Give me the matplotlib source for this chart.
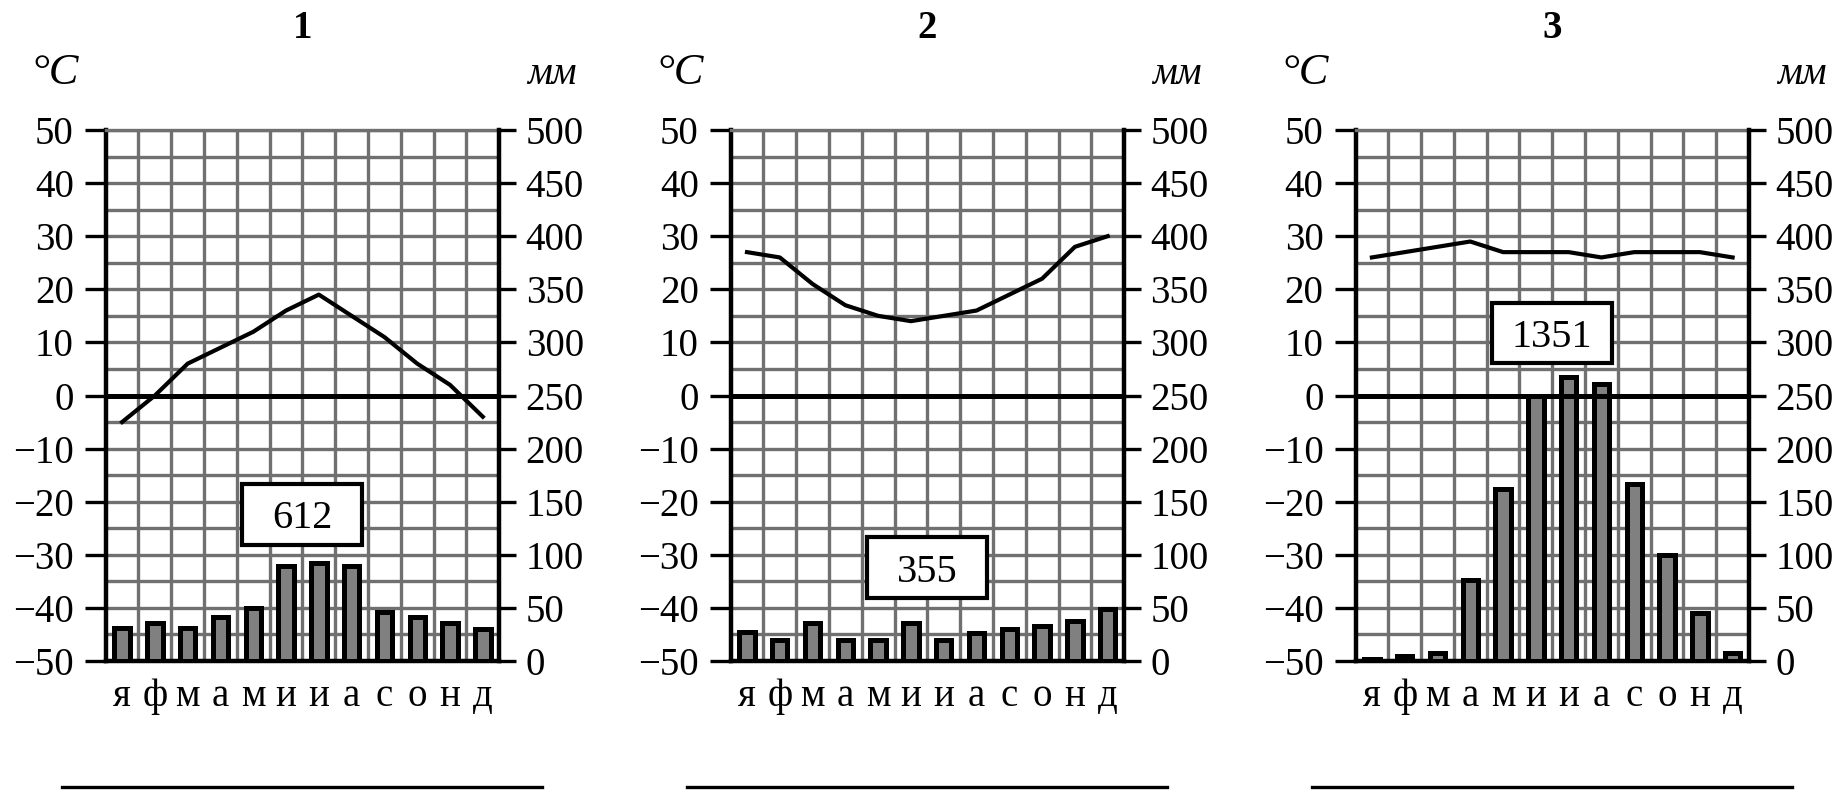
import numpy as np
import matplotlib
matplotlib.use('Agg')
import matplotlib.pyplot as plt
from matplotlib.patches import Rectangle
from matplotlib.lines import Line2D
from matplotlib.ticker import FixedLocator

plt.rcParams['font.family'] = ['Liberation Serif', 'DejaVu Serif']

# ---------------- data ----------------
months = ['я', 'ф', 'м', 'а', 'м', 'и', 'и', 'а', 'с', 'о', 'н', 'д']
titles = ['1', '2', '3']

temp_1 = [-5, 0, 6, 9, 12, 16, 19, 15, 11, 6, 2, -4]
precip_1 = [31, 36, 31, 41, 50, 89, 92, 89, 46, 41, 36, 30]
total_1 = '612'

temp_2 = [27, 26, 21, 17, 15, 14, 15, 16, 19, 22, 28, 30]
precip_2 = [27, 20, 36, 20, 20, 36, 20, 26, 30, 33, 38, 49]
total_2 = '355'

temp_3 = [26, 27, 28, 29, 27, 27, 27, 26, 27, 27, 27, 26]
precip_3 = [2, 5, 8, 76, 162, 250, 267, 261, 167, 100, 45, 8]
total_3 = '1351'

temp_ticks = [50, 40, 30, 20, 10, 0, -10, -20, -30, -40, -50]
temp_tick_labels = ['50', '40', '30', '20', '10', '0',
                    '\u221210', '\u221220', '\u221230', '\u221240', '\u221250']
precip_ticks = [500, 450, 400, 350, 300, 250, 200, 150, 100, 50, 0]
precip_tick_labels = ['500', '450', '400', '350', '300', '250',
                      '200', '150', '100', '50', '0']

# box label centre heights (mm axis)
box_mm = [138, 88, 309]

temps = [temp_1, temp_2, temp_3]
precs = [precip_1, precip_2, precip_3]
totals = [total_1, total_2, total_3]

# ---------------- layout ----------------
W, H = 1846, 794
fig = plt.figure(figsize=(W / 100, H / 100), dpi=100)

lefts = [105.7, 730.6, 1355.5]
ax_w = 393.5
ax_top, ax_bot = 130, 661
grid_c = '#707070'
bar_c = '#808080'
FS = 28

for k in range(3):
    L = lefts[k]
    ax = fig.add_axes([L / W, (H - ax_bot) / H, ax_w / W, (ax_bot - ax_top) / H])
    ax.set_xlim(0, 12)
    ax.set_ylim(-50, 50)
    ax2 = ax.twinx()
    ax2.set_ylim(0, 500)

    x = np.arange(len(months)) + 0.5

    # x axis
    ax.set_xticks(x)
    ax.set_xticklabels(months)
    ax.xaxis.set_minor_locator(FixedLocator(np.arange(1, 12)))
    ax.tick_params(axis='x', which='both', length=0, pad=12, labelsize=FS)

    # left y axis (temperature)
    ax.set_yticks(temp_ticks)
    ax.set_yticklabels(temp_tick_labels)
    ax.yaxis.set_minor_locator(FixedLocator(np.arange(-45, 50, 10)))
    ax.tick_params(axis='y', which='major', direction='out', length=15,
                   width=2.4, pad=8, labelsize=FS)
    ax.tick_params(axis='y', which='minor', length=0)

    ax.set_axisbelow(True)
    ax.grid(True, axis='y', which='both', color=grid_c, lw=2.4)
    ax.grid(True, axis='x', which='minor', color=grid_c, lw=2.4)
    ax.xaxis.grid(False, which='major')

    # right y axis (precip)
    ax2.set_yticks(precip_ticks)
    ax2.set_yticklabels(precip_tick_labels)
    ax2.tick_params(axis='y', direction='out', length=12, width=2.4,
                    pad=7, labelsize=FS)

    # spines
    for s in ['left', 'bottom']:
        ax.spines[s].set_linewidth(3.2)
        ax.spines[s].set_color('black')
    ax.spines['right'].set_visible(False)
    ax.spines['top'].set_color(grid_c)
    ax.spines['top'].set_linewidth(2.4)
    for s in ['left', 'bottom', 'top']:
        ax2.spines[s].set_visible(False)
    ax2.spines['right'].set_linewidth(3.2)
    ax2.spines['right'].set_color('black')

    # bars
    ax2.bar(x, precs[k], width=0.47, color=bar_c, edgecolor='black',
            linewidth=3.6, zorder=2)
    # zero line
    ax2.axhline(250, color='black', lw=3.6, zorder=4)
    # temperature line
    ax.plot(x, temps[k], color='black', lw=3.0, zorder=3)

    # total box
    bw, bh = 3.66, 57
    ax2.add_patch(Rectangle((6 - bw / 2, box_mm[k] - bh / 2), bw, bh,
                            facecolor='white', edgecolor='black', lw=3,
                            zorder=5))
    ax2.text(6, box_mm[k], totals[k], ha='center', va='center_baseline',
             fontsize=29, zorder=6)

    # title and unit labels
    cx = L + ax_w / 2
    fig.text(cx / W, 1 - 28 / H, titles[k], ha='center', va='center',
             fontsize=FS, fontweight='bold')
    fig.text((L - 27) / W, 1 - 73 / H, '°C', ha='right', va='center',
             fontsize=32, fontstyle='italic')
    fig.text((L + ax_w + 28) / W, 1 - 75 / H, 'мм', ha='left', va='center',
             fontsize=FS, fontstyle='italic')

    # answer line
    fig.add_artist(Line2D([(cx - 240) / W, (cx + 240) / W],
                          [1 - 787 / H, 1 - 787 / H],
                          transform=fig.transFigure, color='black', lw=2.4))

fig.savefig('out.png', dpi=100)
